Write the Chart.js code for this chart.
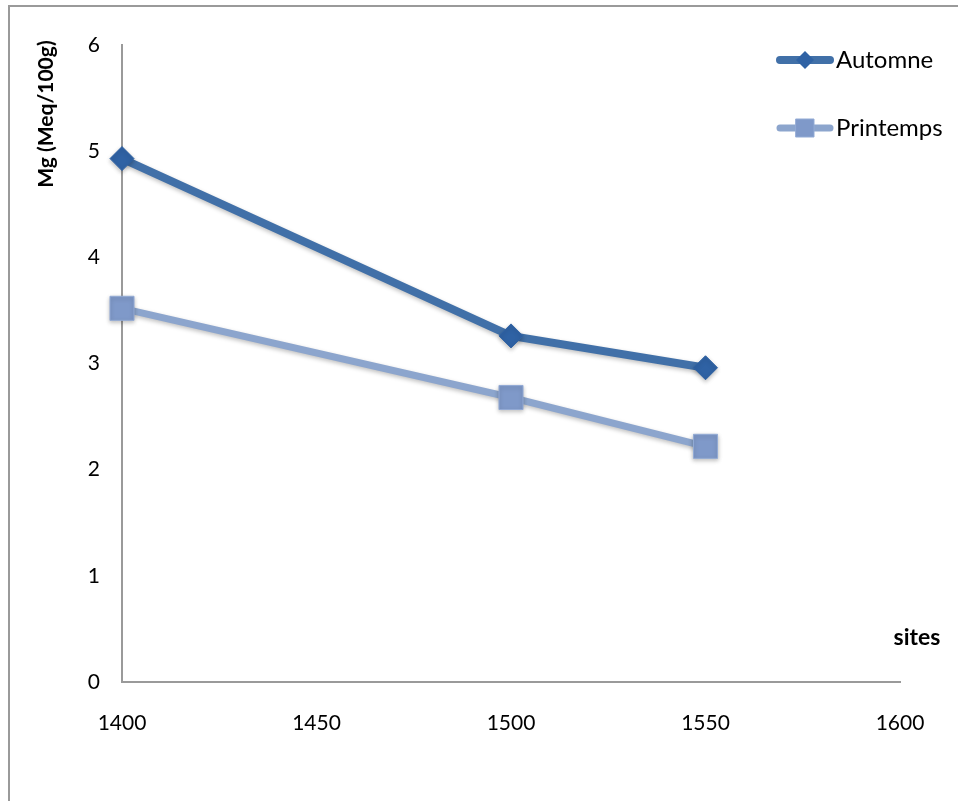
<!DOCTYPE html>
<html>
<head>
<meta charset="utf-8">
<script src="https://cdn.jsdelivr.net/npm/chart.js@4/dist/chart.umd.min.js"></script>
<style>
  html, body { margin: 0; padding: 0; background: #fff; }
  #wrap { width: 958px; height: 801px; position: relative; }
</style>
</head>
<body>
<div id="wrap"><canvas id="c" width="958" height="801"></canvas></div>
<script>
const sites = [1400, 1500, 1550];
const automne = [4.93, 3.26, 2.96];
const printemps = [3.52, 2.68, 2.22];
const seriesNames = ['Automne', 'Printemps'];
const yTitle = 'Mg (Meq/100g)';
const xTitle = 'sites';

const FONT = 'Lato, "Open Sans", sans-serif';

const colA = '#4170A8', markA = '#2F62A4';
const colP = '#8CA5CD', markP = '#7F99C9';

const frame = {
  id: 'frame',
  beforeDraw(chart) {
    const ctx = chart.ctx;
    ctx.save();
    ctx.fillStyle = '#fff';
    ctx.fillRect(0, 0, chart.width, chart.height);
    ctx.strokeStyle = '#9a9a9a';
    ctx.lineWidth = 2;
    ctx.beginPath();
    ctx.moveTo(9, chart.height + 5);
    ctx.lineTo(9, 6);
    ctx.lineTo(chart.width + 5, 6);
    ctx.stroke();
    ctx.restore();
  },
  afterDraw(chart) {
    const ctx = chart.ctx;
    const ca = chart.chartArea;
    ctx.save();
    ctx.fillStyle = '#000';
    ctx.font = 'bold 21px ' + FONT;
    ctx.translate(46, 114);
    ctx.rotate(-Math.PI / 2);
    ctx.textAlign = 'center';
    ctx.textBaseline = 'middle';
    ctx.fillText(yTitle, 0, 0);
    ctx.restore();
    ctx.save();
    ctx.fillStyle = '#000';
    ctx.font = 'bold 23px ' + FONT;
    ctx.textAlign = 'center';
    ctx.textBaseline = 'middle';
    ctx.fillText(xTitle, ca.right + 17, 638);
    ctx.restore();
    const items = chart.data.datasets;
    const ys = [60, 128];
    items.forEach((ds, i) => {
      const y = ys[i];
      ctx.save();
      ctx.strokeStyle = ds.borderColor;
      ctx.lineWidth = ds.borderWidth;
      ctx.lineCap = 'round';
      ctx.beginPath();
      ctx.moveTo(780, y);
      ctx.lineTo(830, y);
      ctx.stroke();
      ctx.fillStyle = ds.pointBackgroundColor;
      ctx.beginPath();
      if (ds.pointStyle === 'rectRot') {
        const r = 9;
        ctx.moveTo(805 - r, y); ctx.lineTo(805, y - r); ctx.lineTo(805 + r, y); ctx.lineTo(805, y + r);
        ctx.closePath();
        ctx.fill();
      } else {
        ctx.rect(796, y - 9, 18, 18);
        ctx.fill();
        ctx.strokeStyle = ds.pointBorderColor;
        ctx.lineWidth = 1;
        ctx.stroke();
      }
      ctx.fillStyle = '#000';
      ctx.font = '24px ' + FONT;
      ctx.textAlign = 'left';
      ctx.textBaseline = 'middle';
      ctx.fillText(ds.label, 836, y);
      ctx.restore();
    });
  }
};

const markerShadow = {
  id: 'markerShadow',
  beforeDatasetsDraw(chart) {
    const ctx = chart.ctx;
    ctx.save();
    ctx.shadowColor = 'rgba(0,0,0,0.25)';
    ctx.shadowBlur = 4;
    ctx.shadowOffsetY = 2;
  },
  afterDatasetsDraw(chart) { chart.ctx.restore(); }
};

new Chart(document.getElementById('c'), {
  type: 'line',
  data: {
    datasets: [
      {
        label: seriesNames[0],
        data: sites.map((x, i) => ({ x: x, y: automne[i] })),
        borderColor: colA,
        borderWidth: 8,
        pointStyle: 'rectRot',
        pointRadius: 12,
        pointHoverRadius: 12,
        pointBackgroundColor: markA,
        pointBorderColor: markA,
        pointBorderWidth: 1,
        tension: 0,
        clip: false,
        order: 1
      },
      {
        label: seriesNames[1],
        data: sites.map((x, i) => ({ x: x, y: printemps[i] })),
        borderColor: colP,
        borderWidth: 7,
        pointStyle: 'rect',
        pointRadius: 17,
        pointHoverRadius: 17,
        pointBackgroundColor: markP,
        pointBorderColor: '#93ABD5',
        pointBorderWidth: 1,
        tension: 0,
        clip: false,
        order: 2
      }
    ]
  },
  options: {
    responsive: false,
    animation: false,
    events: [],
    layout: { padding: { left: 0, top: 45, right: 58, bottom: 0 } },
    plugins: { legend: { display: false }, tooltip: { enabled: false } },
    scales: {
      x: {
        type: 'linear',
        min: 1400, max: 1600,
        grid: { display: false, drawTicks: false },
        border: { display: true, color: '#9a9a9a', width: 2 },
        ticks: { stepSize: 50, padding: 29, color: '#000', font: { family: FONT, size: 21 },
          callback: (v) => String(v) },
        afterFit(s) { s.height = 119; }
      },
      y: {
        min: 0, max: 6,
        grid: { display: false, drawTicks: false },
        border: { display: true, color: '#9a9a9a', width: 2 },
        ticks: { stepSize: 1, padding: 22, color: '#000', font: { family: FONT, size: 21 } },
        afterFit(s) { s.width = 122; }
      }
    }
  },
  plugins: [frame, markerShadow]
});
</script>
</body>
</html>
